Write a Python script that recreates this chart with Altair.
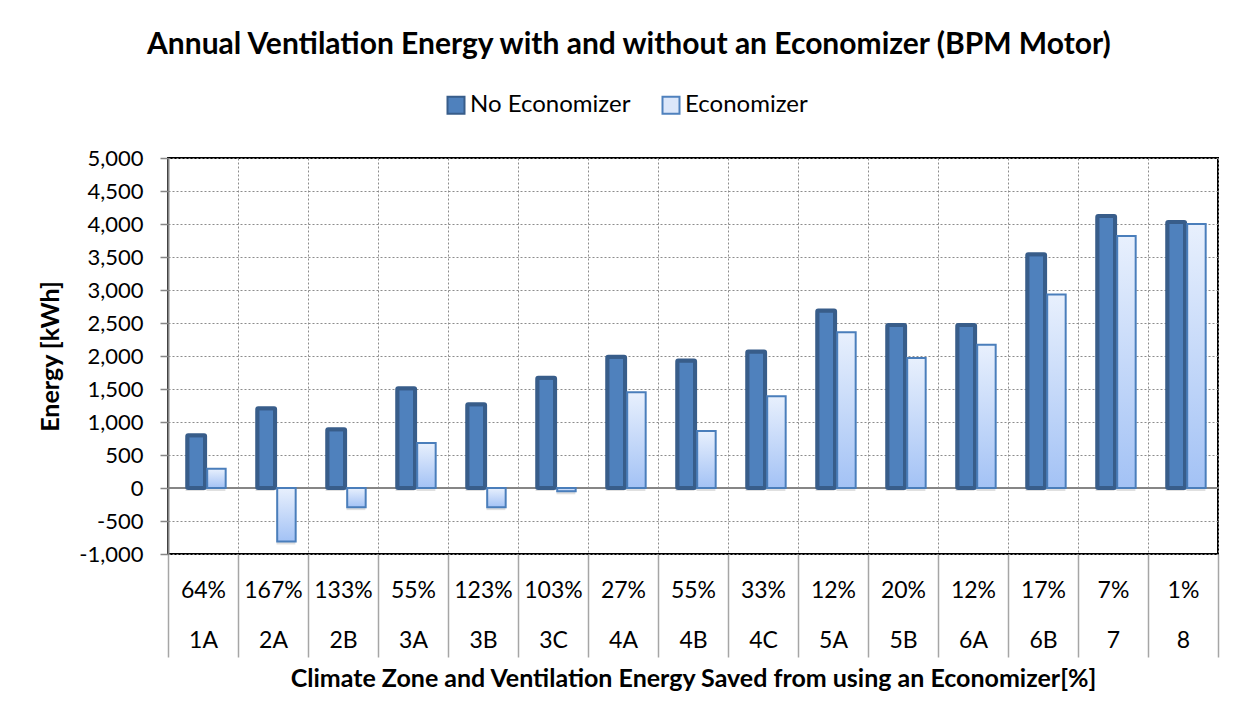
import altair as alt
import pandas as pd

# Climate zones, percentage of ventilation energy saved, annual energy (kWh)
zones = ["1A", "2A", "2B", "3A", "3B", "3C", "4A", "4B", "4C", "5A", "5B", "6A", "6B", "7", "8"]
saved_pct = ["64%", "167%", "133%", "55%", "123%", "103%", "27%", "55%", "33%",
             "12%", "20%", "12%", "17%", "7%", "1%"]
no_economizer = [800, 1210, 890, 1510, 1270, 1670, 1990, 1930, 2070, 2690, 2470, 2470, 3540, 4120, 4030]
economizer = [290, -810, -290, 680, -290, -50, 1450, 865, 1390, 2360, 1970, 2170, 2930, 3820, 4000]
series = ["No Economizer", "Economizer"]
y_ticks = list(range(-1000, 5001, 500))

FONT = "Lato"

# one category key per zone carrying both label rows
keys = [f"{p}|{z}" for p, z in zip(saved_pct, zones)]
df = pd.DataFrame({
    "key": keys * 2,
    "series": [series[0]] * len(zones) + [series[1]] * len(zones),
    "energy": no_economizer + economizer,
})

x_enc = alt.X(
    "key:N", sort=keys,
    scale=alt.Scale(paddingInner=0, paddingOuter=0),
    axis=alt.Axis(
        title="Climate Zone and Ventilation Energy Saved from using an Economizer[%]",
        titleFont=FONT, titleFontSize=25, titleFontWeight="bold", titleColor="black",
        titlePadding=9,
        labelExpr="split(datum.label, '|')", labelAngle=0, labelFont=FONT,
        labelFontSize=23, labelColor="black", labelLineHeight=50,
        labelBaseline="middle", labelPadding=-67,
        tickBand="extent", tickSize=103, tickColor="#A6A6A6", tickWidth=1.5,
        grid=True, gridDash=[2, 2], gridColor="#8C8C8C", gridWidth=1,
        domain=False, labelOverlap=False,
    ),
)
x_off = alt.XOffset("series:N", scale=alt.Scale(domain=series, paddingInner=0, paddingOuter=0.667))

y_scale = alt.Scale(domain=[-1000, 5000], nice=False, zero=False)
y_axis = alt.Axis(
    values=y_ticks, labelOverlap=False,
    labelExpr="replace(format(datum.value, ','), '\u2212', '-')",
    title="Energy [kWh]", titleFont=FONT, titleFontSize=25, titleFontWeight="bold",
    titleColor="black", titlePadding=15,
    labelFont=FONT, labelFontSize=22, labelColor="black", labelPadding=17,
    tickSize=8, tickColor="#868686", tickWidth=1.5,
    domainColor="#868686", domainWidth=2,
    grid=True, gridDash=[2, 2], gridColor="#8C8C8C", gridWidth=1,
)
y_enc = alt.Y("energy:Q", scale=y_scale, axis=y_axis)

base = alt.Chart(df).encode(x=x_enc, xOffset=x_off, y=y_enc)

# zero baseline, drawn under the bars
zero_line = alt.Chart(df).mark_rule(color="#868686", strokeWidth=2).encode(
    y=alt.YDatum(0, type="quantitative", scale=y_scale, axis=y_axis)
)

shadow = base.mark_bar(
    color="black", opacity=0.12, xOffset=4, yOffset=3,
    width=alt.RelativeBandSize(0.9),
)

dark = base.transform_filter(alt.datum.series == series[0]).mark_bar(
    fill="#4F81BD", stroke="#385D8A", strokeWidth=4, cornerRadius=1,
    width=alt.RelativeBandSize(0.85),
)

light = base.transform_filter(alt.datum.series == series[1]).mark_bar(
    fill={"gradient": "linear", "x1": 0, "y1": 0, "x2": 0, "y2": 1,
          "stops": [{"offset": 0, "color": "#E8F0FD"}, {"offset": 1, "color": "#A3C2F5"}]},
    stroke="#4A7EBB", strokeWidth=2,
    width=alt.RelativeBandSize(0.88),
)

# legend entries only; no marks drawn
legend_def = alt.Legend(title=None, orient="none", direction="horizontal",
                        legendX=276, legendY=-65)
legend = alt.Chart(df).transform_filter("false").mark_square(opacity=1, strokeWidth=2).encode(
    fill=alt.Fill("series:N", scale=alt.Scale(domain=series, range=["#4F81BD", "#DCE7FA"]),
                  legend=legend_def),
    stroke=alt.Stroke("series:N", scale=alt.Scale(domain=series, range=["#385D8A", "#4F81BD"]),
                      legend=legend_def),
)

chart = alt.layer(zero_line, shadow, dark, light, legend).properties(
    width=1050, height=396,
    background="white",
    title=alt.TitleParams(
        "Annual Ventilation Energy with and without an Economizer (BPM Motor)",
        font=FONT, fontSize=30, fontWeight="bold", color="black", anchor="middle",
        frame="bounds", offset=33,
    ),
    autosize=alt.AutoSizeParams(type="none"),
    padding={"left": 168, "top": 158, "right": 31, "bottom": 172},
).configure_view(
    stroke="black", strokeWidth=2,
).configure_legend(
    labelFont=FONT, labelFontSize=24, labelColor="black", symbolType="square",
    symbolSize=289, symbolStrokeWidth=2, labelOffset=2, columnPadding=27, padding=0,
    labelLimit=400,
)

chart.save("out.html", embed_options={"renderer": "svg", "actions": False})
